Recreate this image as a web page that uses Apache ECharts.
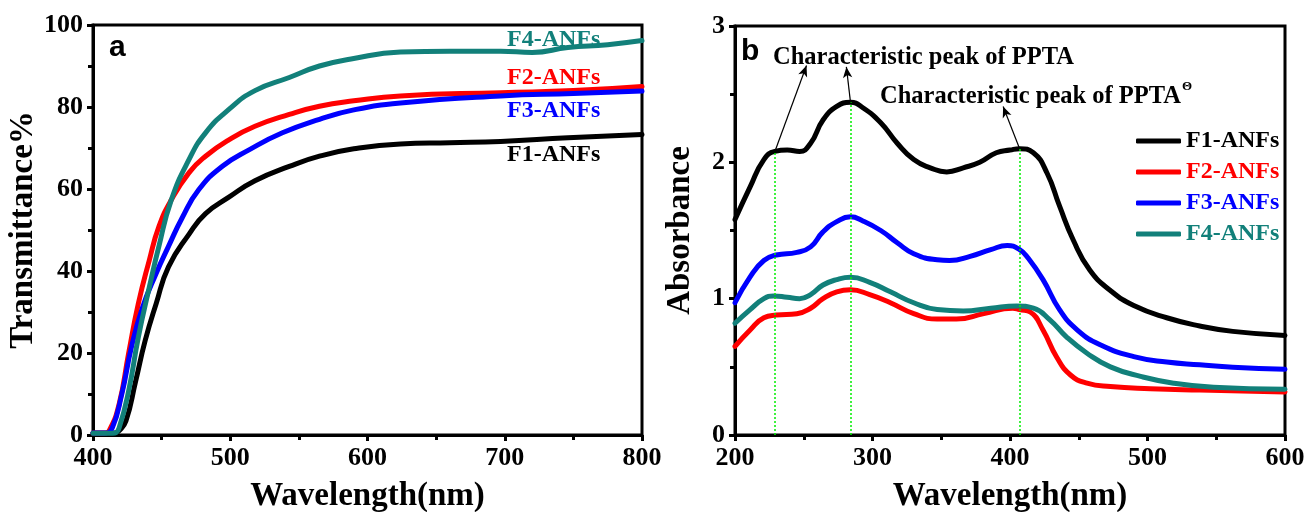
<!DOCTYPE html>
<html>
<head>
<meta charset="utf-8">
<script src="https://cdn.jsdelivr.net/npm/echarts@6/dist/echarts.min.js"></script>
<style>
  html, body { margin: 0; padding: 0; background: #fff; }
  #chart { width: 1306px; height: 512px; }
</style>
</head>
<body>
<div id="chart"></div>
<script>
// ---------- Panel a: transmittance spectra ----------
const tF1Wl  = [400, 410, 416, 419, 424, 431, 438, 446, 455, 470, 482, 499, 518, 543, 565, 590, 624, 660, 697, 746, 800];
const tF1Val = [0.4, 0.4, 0.5, 1, 3.4, 13, 23, 32, 41, 49, 54, 58, 62, 65.5, 68, 69.8, 71, 71.3, 71.6, 72.5, 73.3];

const tF2Wl  = [400, 408, 412, 419, 426, 433, 441, 448, 457, 470, 482, 499, 518, 543, 565, 590, 624, 697, 750, 800];
const tF2Val = [0.5, 0.5, 1.2, 7.5, 20, 32, 42.6, 50.8, 57.3, 64, 68, 72, 75.3, 78.2, 80.2, 81.5, 82.7, 83.5, 84, 85];

const tF3Wl  = [400, 409, 414, 421, 428, 436, 446, 455, 465, 477, 494, 514, 538, 565, 590, 624, 697, 750, 800];
const tF3Val = [0.5, 0.5, 1.7, 10, 21.4, 31, 39.4, 46, 53, 59.8, 65.5, 69.6, 73.7, 77, 79.3, 81, 82.7, 83.3, 83.9];

const tF4Wl  = [400, 412, 416, 419, 426, 433, 441, 448, 457, 470, 482, 499, 518, 543, 565, 588, 624, 660, 697, 720, 746, 775, 800];
const tF4Val = [0.4, 0.4, 0.5, 1.7, 10.8, 23.8, 36, 46, 57.3, 67.2, 73.7, 79.4, 84, 87.2, 90, 91.7, 93.4, 93.6, 93.6, 93.3, 94.5, 95.2, 96.2];

// ---------- Panel b: absorbance spectra ----------
const aF1Wl  = [200, 211, 221, 229, 238, 247, 255, 264, 274, 284, 293, 306, 318, 330, 342, 354, 366, 378, 390, 400, 407, 417, 427, 436, 446, 458, 473, 490, 514, 538, 562, 600];
const aF1Val = [1.58, 1.82, 2.02, 2.08, 2.09, 2.08, 2.14, 2.31, 2.41, 2.44, 2.40, 2.29, 2.14, 2.02, 1.96, 1.93, 1.96, 2.0, 2.07, 2.09, 2.10, 2.07, 1.92, 1.68, 1.43, 1.21, 1.06, 0.95, 0.86, 0.80, 0.76, 0.73];

const aF2Wl  = [200, 211, 221, 230, 245, 255, 264, 274, 284, 298, 313, 330, 347, 361, 381, 402, 407, 415, 424, 434, 444, 456, 473, 502, 538, 600];
const aF2Val = [0.65, 0.77, 0.86, 0.88, 0.89, 0.93, 1.0, 1.05, 1.065, 1.03, 0.97, 0.89, 0.85, 0.85, 0.89, 0.93, 0.92, 0.90, 0.77, 0.57, 0.44, 0.38, 0.355, 0.34, 0.33, 0.316];

const aF3Wl  = [200, 211, 221, 230, 245, 255, 264, 274, 284, 293, 306, 318, 330, 347, 356, 371, 386, 398, 407, 413, 424, 436, 449, 466, 490, 514, 538, 562, 600];
const aF3Val = [0.97, 1.16, 1.28, 1.32, 1.34, 1.38, 1.49, 1.565, 1.60, 1.57, 1.50, 1.41, 1.33, 1.285, 1.28, 1.31, 1.36, 1.39, 1.36, 1.30, 1.14, 0.92, 0.77, 0.66, 0.575, 0.535, 0.515, 0.497, 0.482];

const aF4Wl  = [200, 211, 221, 228, 238, 247, 255, 264, 274, 284, 298, 313, 330, 347, 366, 386, 405, 417, 429, 441, 456, 473, 495, 519, 548, 600];
const aF4Val = [0.82, 0.92, 1.0, 1.02, 1.01, 1.0, 1.03, 1.10, 1.14, 1.157, 1.12, 1.05, 0.97, 0.92, 0.91, 0.93, 0.946, 0.93, 0.845, 0.72, 0.60, 0.50, 0.43, 0.38, 0.35, 0.335];

// Characteristic peak positions on the F1 curve
const peakWl  = [229, 284, 407];
const peakVal = [2.08, 2.44, 2.10];
// Arrow tips pointing at the annotation texts
const arrowTipWl  = [252, 281, 395];
const arrowTipVal = [2.71, 2.70, 2.41];

const seriesNames  = ['F1-ANFs', 'F2-ANFs', 'F3-ANFs', 'F4-ANFs'];
const seriesColors = ['#000000', '#ff0000', '#0000ff', '#12807a'];

const SERIF = "'Liberation Serif', 'Times New Roman', serif";
const pairs = (xs, ys) => xs.map((x, i) => [x, ys[i]]);

function xAxisCfg(gridIndex, min, max) {
  return {
    type: 'value', gridIndex, min, max, interval: 100,
    name: 'Wavelength(nm)', nameLocation: 'middle', nameGap: 45,
    nameTextStyle: { fontFamily: SERIF, fontWeight: 'bold', fontSize: 33, color: '#000' },
    axisLine: { show: true, onZero: false, lineStyle: { color: '#000', width: 3 } },
    axisTick: { show: true, length: 6, lineStyle: { color: '#000', width: 3 } },
    minorTick: { show: true, splitNumber: 2, length: 5, lineStyle: { color: '#000', width: 3 } },
    axisLabel: { fontFamily: SERIF, fontWeight: 'bold', fontSize: 26, color: '#000', margin: 10 },
    splitLine: { show: false }
  };
}
function yAxisCfg(gridIndex, min, max, interval, name, gap) {
  return {
    type: 'value', gridIndex, min, max, interval,
    name, nameLocation: 'middle', nameGap: gap,
    nameTextStyle: { fontFamily: SERIF, fontWeight: 'bold', fontSize: 33, color: '#000' },
    axisLine: { show: true, onZero: false, lineStyle: { color: '#000', width: 3 } },
    axisTick: { show: true, length: 6, lineStyle: { color: '#000', width: 3 } },
    minorTick: { show: true, splitNumber: 2, length: 5, lineStyle: { color: '#000', width: 3 } },
    axisLabel: { fontFamily: SERIF, fontWeight: 'bold', fontSize: 26, color: '#000', margin: 10 },
    splitLine: { show: false }
  };
}
function curve(name, idx, xs, ys, axis) {
  return {
    name, type: 'line', xAxisIndex: axis, yAxisIndex: axis,
    data: pairs(xs, ys), showSymbol: false, symbol: 'none',
    smooth: 0.5,
    lineStyle: { color: seriesColors[idx], width: 5, cap: 'round', join: 'round' },
    itemStyle: { color: seriesColors[idx] },
    z: 3
  };
}

const guideLines = peakWl.map((w, i) => [
  { coord: [w, 0], lineStyle: { color: '#00ee00', width: 1.5, type: [2, 2] }, symbol: 'none' },
  { coord: [w, peakVal[i]], symbol: 'none' }
]);
const arrowLines = peakWl.map((w, i) => [
  { coord: [w, peakVal[i]], lineStyle: { color: '#000', width: 1.2, type: 'solid' }, symbol: 'none' },
  { coord: [arrowTipWl[i], arrowTipVal[i]], symbol: 'arrow', symbolSize: [7, 11] }
]);

const chart = echarts.init(document.getElementById('chart'), null, { renderer: 'canvas' });

const leftLabelTexts = [
  { text: 'F4-ANFs', y: 40, color: seriesColors[3] },
  { text: 'F2-ANFs', y: 78, color: seriesColors[1] },
  { text: 'F3-ANFs', y: 111, color: seriesColors[2] },
  { text: 'F1-ANFs', y: 155, color: seriesColors[0] }
];

chart.setOption({
  animation: false,
  backgroundColor: '#fff',
  grid: [
    { left: 93, right: 664, top: 25, bottom: 77, outerBoundsMode: 'none', containLabel: false,
      show: true, borderColor: '#000', borderWidth: 3, backgroundColor: 'transparent' },
    { left: 735, right: 21, top: 26, bottom: 77, outerBoundsMode: 'none', containLabel: false,
      show: true, borderColor: '#000', borderWidth: 3, backgroundColor: 'transparent' }
  ],
  xAxis: [xAxisCfg(0, 400, 800), xAxisCfg(1, 200, 600)],
  yAxis: [
    yAxisCfg(0, 0, 100, 20, 'Transmittance%', 49),
    yAxisCfg(1, 0, 3, 1, 'Absorbance', 38)
  ],
  legend: {
    show: true, orient: 'vertical', left: 1131, top: 124,
    itemWidth: 45, itemHeight: 5, itemGap: 7, icon: 'roundRect',
    selectedMode: false,
    textStyle: { fontFamily: SERIF, fontWeight: 'bold', fontSize: 24 },
    data: seriesNames.map((n, i) => ({ name: n, textStyle: { color: seriesColors[i] } }))
  },
  series: [
    curve(seriesNames[0], 0, tF1Wl, tF1Val, 0),
    curve(seriesNames[1], 1, tF2Wl, tF2Val, 0),
    curve(seriesNames[2], 2, tF3Wl, tF3Val, 0),
    curve(seriesNames[3], 3, tF4Wl, tF4Val, 0),
    curve(seriesNames[0], 0, aF1Wl, aF1Val, 1),
    curve(seriesNames[1], 1, aF2Wl, aF2Val, 1),
    curve(seriesNames[2], 2, aF3Wl, aF3Val, 1),
    curve(seriesNames[3], 3, aF4Wl, aF4Val, 1),
    {
      name: 'peaks', type: 'line', xAxisIndex: 1, yAxisIndex: 1, data: [], z: 5,
      markLine: {
        silent: true, animation: false, symbol: ['none', 'none'],
        label: { show: false },
        emphasis: { disabled: true },
        data: guideLines.concat(arrowLines)
      }
    }
  ],
  graphic: [
    { type: 'text', left: 109, top: 33, z: 10,
      style: { text: 'a', font: "bold 30px 'Liberation Sans', Arial, sans-serif", fill: '#000' } },
    { type: 'text', left: 741, top: 37, z: 10,
      style: { text: 'b', font: "bold 30px 'Liberation Sans', Arial, sans-serif", fill: '#000' } },
    ...leftLabelTexts.map(t => ({
      type: 'text', z: 10,
      style: { text: t.text, x: 507, y: t.y, font: `bold 24px ${SERIF}`, fill: t.color, textAlign: 'left', textVerticalAlign: 'middle' }
    })),
    { type: 'text', z: 10,
      style: { text: 'Characteristic peak of PPTA', x: 773, y: 58, font: `bold 24.5px ${SERIF}`, fill: '#000', textAlign: 'left', textVerticalAlign: 'middle' } },
    { type: 'text', z: 10,
      style: { text: 'Characteristic peak of PPTA', x: 880, y: 97, font: `bold 24.5px ${SERIF}`, fill: '#000', textAlign: 'left', textVerticalAlign: 'middle' } },
    { type: 'text', z: 10,
      style: { text: 'Θ', x: 1182, y: 87, font: `bold 13px ${SERIF}`, fill: '#000', textAlign: 'left', textVerticalAlign: 'middle' } }
  ]
});
</script>
</body>
</html>
